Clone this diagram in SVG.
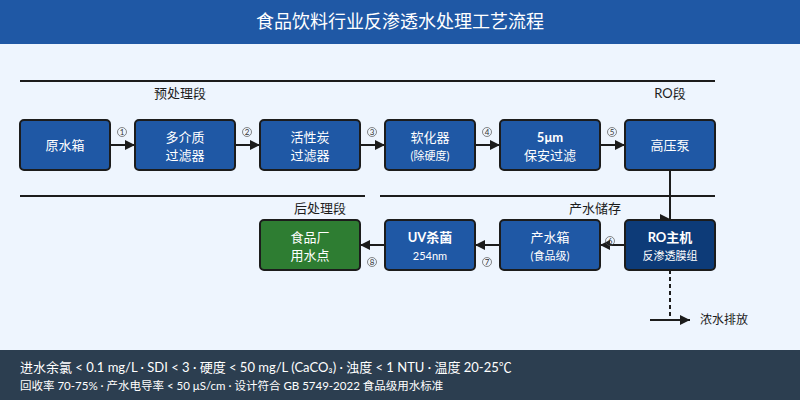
<svg xmlns="http://www.w3.org/2000/svg" width="800" height="400" viewBox="0 0 800 400">
<style>
text{font-family:"Lato","Noto Sans CJK SC",sans-serif}
.b{fill:#1f58a5;stroke:#1c1c1c;stroke-width:2}
.t{fill:#fff;font-size:13px;text-anchor:middle}
.s{fill:#fff;font-size:11px;text-anchor:middle}
.c{stroke:#1c1c1c;stroke-width:2;fill:none}
.n{font-size:8px;text-anchor:middle;fill:#333}
.nc{fill:none;stroke:#555;stroke-width:0.7}
.sec{font-size:13px;fill:#1c1c1c;text-anchor:middle}
</style>
<defs><marker id="a" viewBox="0 0 10 10" refX="10" refY="5" markerWidth="5" markerHeight="5" orient="auto"><path d="M0,0L10,5L0,10z" fill="#1c1c1c"/></marker></defs>
<rect width="800" height="400" fill="#eef5fe"/>
<rect width="800" height="44" fill="#1f58a5"/>
<text x="400" y="28" font-size="18" fill="#fff" text-anchor="middle">食品饮料行业反渗透水处理工艺流程</text>
<g id="sections">
<line x1="20" y1="81" x2="715" y2="81" stroke="#1c1c1c" stroke-width="2"/>
<line x1="20" y1="196" x2="365" y2="196" stroke="#1c1c1c" stroke-width="2"/>
<line x1="380" y1="196" x2="715" y2="196" stroke="#1c1c1c" stroke-width="2"/>
<text class="sec" x="180" y="98">预处理段</text>
<text class="sec" x="670" y="98">RO段</text>
<text class="sec" x="320" y="213">后处理段</text>
<text class="sec" x="595" y="213">产水储存</text>
</g>
<g id="connectors">
<path class="c" d="M110,145H135" marker-end="url(#a)"/>
<path class="c" d="M235,145H260" marker-end="url(#a)"/>
<path class="c" d="M360,145H385" marker-end="url(#a)"/>
<path class="c" d="M475,145H500" marker-end="url(#a)"/>
<path class="c" d="M600,145H625" marker-end="url(#a)"/>
<path class="c" d="M670,170V220"/>
<path d="M660,214L672,220L660,226z" fill="#1c1c1c"/>
<path class="c" d="M625,245H600" marker-end="url(#a)"/>
<path class="c" d="M500,245H475" marker-end="url(#a)"/>
<path class="c" d="M385,245H360" marker-end="url(#a)"/>
<path class="c" d="M670,270V316" stroke-dasharray="4,3"/>
<path class="c" d="M650,320H690" marker-end="url(#a)"/>
<text x="700" y="324" font-size="12" fill="#1c1c1c">浓水排放</text>
<g>
<circle class="nc" cx="122" cy="132" r="4.5"/><text class="n" x="122" y="135">1</text>
<circle class="nc" cx="247" cy="132" r="4.5"/><text class="n" x="247" y="135">2</text>
<circle class="nc" cx="372" cy="132" r="4.5"/><text class="n" x="372" y="135">3</text>
<circle class="nc" cx="487" cy="132" r="4.5"/><text class="n" x="487" y="135">4</text>
<circle class="nc" cx="612" cy="132" r="4.5"/><text class="n" x="612" y="135">5</text>
<circle class="nc" cx="610" cy="241" r="4.5"/><text class="n" x="610" y="244">6</text>
<circle class="nc" cx="487" cy="262" r="4.5"/><text class="n" x="487" y="265">7</text>
<circle class="nc" cx="372" cy="262" r="4.5"/><text class="n" x="372" y="265">8</text>
</g>
</g>
<g id="n1"><rect class="b" x="20" y="120" width="90" height="50" rx="4"/><text class="t" x="65" y="150">原水箱</text></g>
<g id="n2"><rect class="b" x="135" y="120" width="100" height="50" rx="4"/><text class="t" x="185" y="142">多介质</text><text class="t" x="185" y="160">过滤器</text></g>
<g id="n3"><rect class="b" x="260" y="120" width="100" height="50" rx="4"/><text class="t" x="310" y="142">活性炭</text><text class="t" x="310" y="160">过滤器</text></g>
<g id="n4"><rect class="b" x="385" y="120" width="90" height="50" rx="4"/><text class="t" x="430" y="142">软化器</text><text class="s" x="430" y="160">(除硬度)</text></g>
<g id="n5"><rect class="b" x="500" y="120" width="100" height="50" rx="4"/><text class="t" x="550" y="142" font-weight="bold">5μm</text><text class="t" x="550" y="160">保安过滤</text></g>
<g id="n6"><rect class="b" x="625" y="120" width="90" height="50" rx="4"/><text class="t" x="670" y="150">高压泵</text></g>
<g id="n7"><rect class="b" x="625" y="220" width="90" height="50" rx="4" style="fill:#0d3b78"/><text class="t" x="670" y="242" font-weight="bold">RO主机</text><text class="s" x="670" y="260">反渗透膜组</text></g>
<g id="n8"><rect class="b" x="500" y="220" width="100" height="50" rx="4"/><text class="t" x="550" y="242">产水箱</text><text class="s" x="550" y="260">(食品级)</text></g>
<g id="n9"><rect class="b" x="385" y="220" width="90" height="50" rx="4"/><text class="t" x="430" y="242" font-weight="bold">UV杀菌</text><text class="s" x="430" y="260">254nm</text></g>
<g id="n10"><rect class="b" x="260" y="220" width="100" height="50" rx="4" style="fill:#2e7d32"/><text class="t" x="310" y="242">食品厂</text><text class="t" x="310" y="260">用水点</text></g>
<rect y="350" width="800" height="50" fill="#2c3e50"/>
<text x="20" y="372" font-size="13" fill="#fff">进水余氯 &lt; 0.1 mg/L · SDI &lt; 3 · 硬度 &lt; 50 mg/L (CaCO₃) · 浊度 &lt; 1 NTU · 温度 20-25℃</text>
<text x="20" y="390" font-size="11.5" fill="#fff">回收率 70-75% · 产水电导率 &lt; 50 μS/cm · 设计符合 GB 5749-2022 食品级用水标准</text>
</svg>
